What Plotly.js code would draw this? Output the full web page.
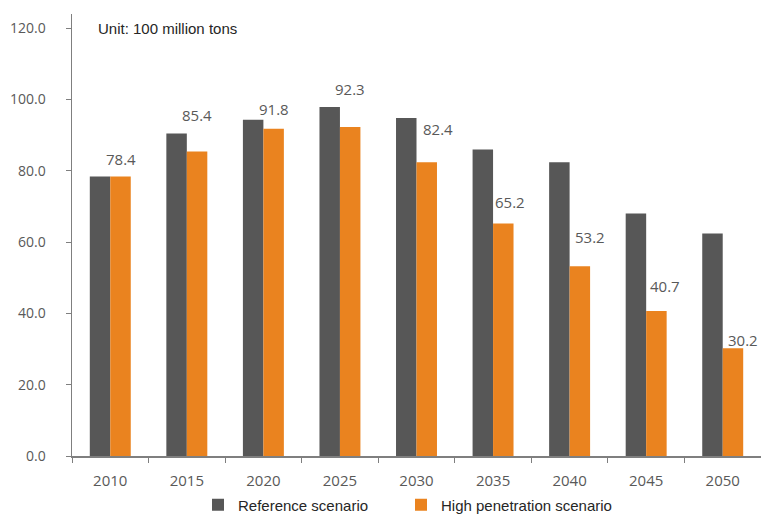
<!DOCTYPE html>
<html>
<head>
<meta charset="utf-8">
<script src="https://cdn.plot.ly/plotly-3.0.1.min.js"></script>
<style>html,body{margin:0;padding:0;background:#fff;}#chart{width:761px;height:515px;}</style>
</head>
<body>
<div id="chart"></div>
<script>
// Data
const years = ['2010','2015','2020','2025','2030','2035','2040','2045','2050'];
const referenceScenario = [78.4, 90.5, 94.3, 97.9, 94.8, 86.0, 82.4, 68.0, 62.4];
const highPenetration = [78.4, 85.4, 91.8, 92.3, 82.4, 65.2, 53.2, 40.7, 30.2];
const yTickValues = [0, 20, 40, 60, 80, 100, 120];
const yTickLabels = ['0.0', '20.0', '40.0', '60.0', '80.0', '100.0', '120.0'];

// Label styling (pixel lift above the orange bar, horizontal nudge)
const labelLift = [18, 37, 20, 38, 33, 22, 29, 25, 8];
const labelNudge = [0, 0, 0, 0, 11, 6, 10, 8, 10];

const gray = '#575757';
const orange = '#EA831F';
const tickColor = '#595959';

const W = 761, H = 515, ml = 72, mr = 0, mt = 14, mb = 59;
const pw = W - ml - mr, ph = H - mt - mb;

const traces = [
  {type: 'bar', name: 'Reference scenario', x: years, y: referenceScenario,
   marker: {color: gray}, hoverinfo: 'skip', legend: 'legend'},
  {type: 'bar', name: 'High penetration scenario', x: years, y: highPenetration,
   marker: {color: orange}, hoverinfo: 'skip', legend: 'legend2'}
];

const annotations = years.map((yr, i) => ({
  x: i, y: highPenetration[i], xref: 'x', yref: 'y',
  text: highPenetration[i].toFixed(1), showarrow: false,
  xshift: 10.5 + labelNudge[i], yshift: labelLift[i],
  xanchor: 'center', yanchor: 'middle',
  font: {family: 'Open Sans, sans-serif', size: 15, color: tickColor}
}));
annotations.push({
  xref: 'paper', yref: 'paper',
  x: (96 - ml) / pw, y: 1 - (28 - mt) / ph,
  xanchor: 'left', yanchor: 'middle', showarrow: false,
  text: 'Unit: 100 million tons',
  font: {family: 'Liberation Sans, Arial, sans-serif', size: 15, color: '#262626'}
});

const legendFont = {family: 'Liberation Sans, Arial, sans-serif', size: 15, color: '#262626'};
const layout = {
  width: W, height: H,
  margin: {l: ml, r: mr, t: mt, b: mb, autoexpand: false},
  paper_bgcolor: '#ffffff', plot_bgcolor: '#ffffff',
  barmode: 'group', bargap: 0.465, bargroupgap: 0,
  showlegend: true,
  legend: {
    orientation: 'h', x: (198 - ml) / pw, xanchor: 'left',
    y: (456 - 505) / ph, yanchor: 'middle',
    font: legendFont, itemwidth: 30, bgcolor: 'rgba(0,0,0,0)'
  },
  legend2: {
    orientation: 'h', x: (401 - ml) / pw, xanchor: 'left',
    y: (456 - 505) / ph, yanchor: 'middle',
    font: legendFont, itemwidth: 30, bgcolor: 'rgba(0,0,0,0)'
  },
  xaxis: {
    type: 'category', range: [-0.5, years.length - 0.5],
    tickson: 'boundaries', ticks: 'outside', ticklen: 5,
    tickcolor: '#7f7f7f', showline: true, linecolor: '#7f7f7f', linewidth: 1.5,
    showgrid: false, zeroline: false, tickangle: 0, ticklabelstandoff: 10,
    tickfont: {family: 'Open Sans, sans-serif', size: 15, color: tickColor}
  },
  yaxis: {
    range: [0, 124], tickvals: yTickValues, ticktext: yTickLabels,
    ticks: 'outside', ticklen: 5, tickcolor: '#7f7f7f',
    showline: true, linecolor: '#7f7f7f', linewidth: 1.5,
    showgrid: false, zeroline: false, ticklabelstandoff: 17,
    tickfont: {family: 'Open Sans, sans-serif', size: 14, color: tickColor}
  },
  annotations: annotations
};

Plotly.newPlot('chart', traces, layout, {displayModeBar: false, staticPlot: true});
</script>
</body>
</html>
